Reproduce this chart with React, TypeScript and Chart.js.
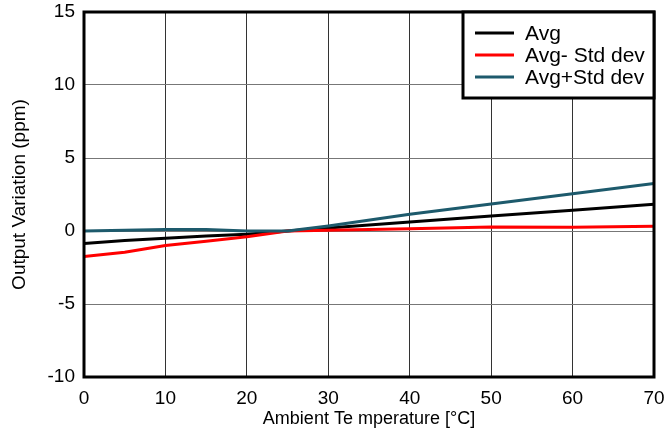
import React, { useEffect, useRef } from "react";
import { Chart, registerables } from "chart.js";

Chart.register(...registerables);

const temperatures = [0, 5, 10, 15, 20, 25, 30, 40, 50, 60, 70];
const avgValues = [-0.85, -0.65, -0.5, -0.35, -0.22, 0, 0.2, 0.62, 1.03, 1.42, 1.83];
const avgMinusStd = [-1.75, -1.45, -1.0, -0.7, -0.4, 0, 0.05, 0.15, 0.27, 0.25, 0.32];
const avgPlusStd = [0, 0.05, 0.1, 0.1, 0, 0, 0.35, 1.15, 1.85, 2.55, 3.25];
const seriesLabels = ["Avg", "Avg- Std dev", "Avg+Std dev"];
const seriesColors = ["#000000", "#ff0000", "#1d5a6c"];
const xTicks = [0, 10, 20, 30, 40, 50, 60, 70];
const yTicks = [-10, -5, 0, 5, 10, 15];

const FONT = "'Liberation Sans', Arial, sans-serif";

const boxPlugin = {
  id: "boxAndLegend",
  afterDraw(chart: any) {
    const { ctx, chartArea } = chart;
    ctx.save();
    ctx.strokeStyle = "#000";
    ctx.lineWidth = 3;
    ctx.strokeRect(chartArea.left, chartArea.top, chartArea.right - chartArea.left, chartArea.bottom - chartArea.top);
    // legend box
    const bx = 463, by = chartArea.top, bw = chartArea.right - 463, bh = 86;
    ctx.fillStyle = "#fff";
    ctx.fillRect(bx, by, bw, bh);
    ctx.strokeRect(bx, by, bw, bh);
    const rows = [33, 55, 77];
    ctx.font = `21px ${FONT}`;
    ctx.textBaseline = "middle";
    ctx.textAlign = "left";
    seriesLabels.forEach((label, i) => {
      ctx.strokeStyle = seriesColors[i];
      ctx.lineWidth = 3;
      ctx.beginPath();
      ctx.moveTo(475, rows[i]);
      ctx.lineTo(514, rows[i]);
      ctx.stroke();
      ctx.fillStyle = "#000";
      ctx.fillText(label, 525, rows[i] + 1);
    });
    ctx.restore();
  },
};

export default function App() {
  const ref = useRef<HTMLCanvasElement>(null);
  useEffect(() => {
    const series = [avgValues, avgMinusStd, avgPlusStd];
    const chart = new Chart(ref.current!, {
      type: "line",
      data: {
        labels: temperatures,
        datasets: series.map((vals, i) => ({
          label: seriesLabels[i],
          data: vals.map((v, j) => ({ x: temperatures[j], y: v })),
          borderColor: seriesColors[i],
          backgroundColor: seriesColors[i],
          borderWidth: 3,
          pointRadius: 0,
          tension: 0,
          order: 3 - i,
        })),
      },
      options: {
        animation: false,
        responsive: false,
        maintainAspectRatio: false,
        layout: { padding: { left: 8, top: 12, right: 12, bottom: 0 } },
        plugins: { legend: { display: false }, tooltip: { enabled: false } },
        scales: {
          x: {
            type: "linear",
            min: 0,
            max: 70,
            afterBuildTicks: (s: any) => { s.ticks = xTicks.map((v) => ({ value: v })); },
            afterFit: (s: any) => { s.height = 56; s.paddingLeft = 0; s.paddingRight = 0; },
            grid: { color: "#333", lineWidth: 1, drawTicks: false },
            border: { display: false },
            ticks: { color: "#000", font: { family: FONT, size: 19 }, padding: 10, maxRotation: 0 },
            title: { display: true, text: "Ambient Te mperature [°C]", color: "#000", font: { family: FONT, size: 18 }, padding: { top: 0, bottom: 3 } },
          },
          y: {
            type: "linear",
            min: -10,
            max: 15,
            afterBuildTicks: (s: any) => { s.ticks = yTicks.map((v) => ({ value: v })); },
            afterFit: (s: any) => { s.width = 76; s.paddingTop = 0; s.paddingBottom = 0; },
            grid: { color: "#777", lineWidth: 1, drawTicks: false },
            border: { display: false },
            ticks: { color: "#000", font: { family: FONT, size: 19 }, padding: 9 },
            title: { display: true, text: "Output Variation (ppm)", color: "#000", font: { family: FONT, size: 19 }, padding: { top: 0, bottom: 0 } },
          },
        },
      },
      plugins: [boxPlugin],
    } as any);
    return () => chart.destroy();
  }, []);
  return (
    <div style={{ position: "fixed", left: 0, top: 0, width: 666, height: 433, background: "#fff" }}>
      <canvas ref={ref} width={666} height={433} style={{ width: 666, height: 433 }} />
    </div>
  );
}
